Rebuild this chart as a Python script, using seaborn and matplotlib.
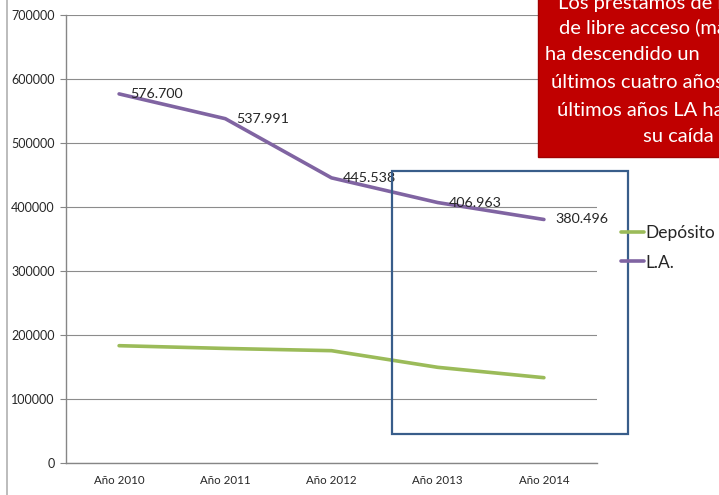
import pandas as pd
import matplotlib.pyplot as plt
import seaborn as sns
from matplotlib.patches import Rectangle
from matplotlib.lines import Line2D

# datos
anios = ['Año 2010', 'Año 2011', 'Año 2012', 'Año 2013', 'Año 2014']
deposito = [183300, 179000, 175500, 149500, 133300]
libre_acceso = [576700, 537991, 445538, 406963, 380496]
etiquetas_la = ['576.700', '537.991', '445.538', '406.963', '380.496']
nota = ['Los préstamos de libros',
        'de libre acceso (materiales)',
        'ha descendido un',
        'últimos cuatro años',
        'últimos años LA ha frenado',
        'su caída']

df = pd.DataFrame({
    'anio': anios * 2,
    'valor': deposito + libre_acceso,
    'serie': ['Depósito'] * len(anios) + ['L.A.'] * len(anios),
})

sns.set_style('white')
plt.rcParams['font.family'] = ['Lato', 'DejaVu Sans']

fig = plt.figure(figsize=(7.19, 4.95), dpi=100)
ax = fig.add_axes([66 / 719, 32 / 495, 531 / 719, 448 / 495])

sns.lineplot(data=df, x='anio', y='valor', hue='serie',
             palette={'Depósito': '#9bbb59', 'L.A.': '#8064a2'},
             linewidth=2.6, ax=ax, sort=False)

ax.set_xlim(-0.5, 4.5)
ax.set_ylim(0, 700000)
ax.set_yticks(range(0, 700001, 100000))
ax.set_yticklabels([str(v) for v in range(0, 700001, 100000)], fontsize=9)
ax.set_xticks(range(len(anios)))
ax.set_xticklabels(anios, fontsize=8.3)
ax.set_xticks([i - 0.5 for i in range(len(anios) + 1)], minor=True)
ax.tick_params(axis='x', which='major', length=0, pad=9)
ax.tick_params(axis='x', which='minor', length=4, color='#868686', direction='out')
ax.tick_params(axis='y', length=4, color='#868686', direction='out', left=True, pad=4)
ax.set_xlabel('')
ax.set_ylabel('')
ax.grid(axis='y', color='#8c8c8c', linewidth=0.8)
ax.set_axisbelow(True)
for s in ['top', 'right']:
    ax.spines[s].set_visible(False)
for s in ['left', 'bottom']:
    ax.spines[s].set_color('#868686')
    ax.spines[s].set_linewidth(1.0)

# etiquetas de datos
for i, (v, t) in enumerate(zip(libre_acceso, etiquetas_la)):
    ax.annotate(t, (i, v), xytext=(8, 0), textcoords='offset points',
                ha='left', va='center', fontsize=10.3)

# recuadro azul
ax.add_patch(Rectangle((2.57, 45300), 2.22, 411000, fill=False,
                       edgecolor='#385d8a', linewidth=1.6, clip_on=False, zorder=5))

# leyenda
h, l = ax.get_legend_handles_labels()
ax.legend(h, l, loc='center left', bbox_to_anchor=(0.851, 0.499),
          bbox_transform=fig.transFigure, frameon=False, fontsize=12.5,
          handlelength=1.35, handletextpad=0.06, labelspacing=0.75, borderpad=0)

# borde izquierdo
fig.add_artist(Line2D([7 / 719, 7 / 719], [0, 1], color='#b0b0b0', linewidth=1.2))

# cuadro rojo
fig.add_artist(Rectangle((538 / 719, 1 - 157 / 495), 0.4, 0.4,
                         facecolor='#c00000', edgecolor='#a00000', linewidth=1))
xs = [558, 559, 545, 551, 557, 643]
ys = [3, 27, 55, 83, 110, 137]
for t, x, y in zip(nota, xs, ys):
    fig.text(x / 719, 1 - y / 495, t, color='white', fontsize=14.5,
             ha='left', va='center')

fig.savefig('out.png', dpi=100)
